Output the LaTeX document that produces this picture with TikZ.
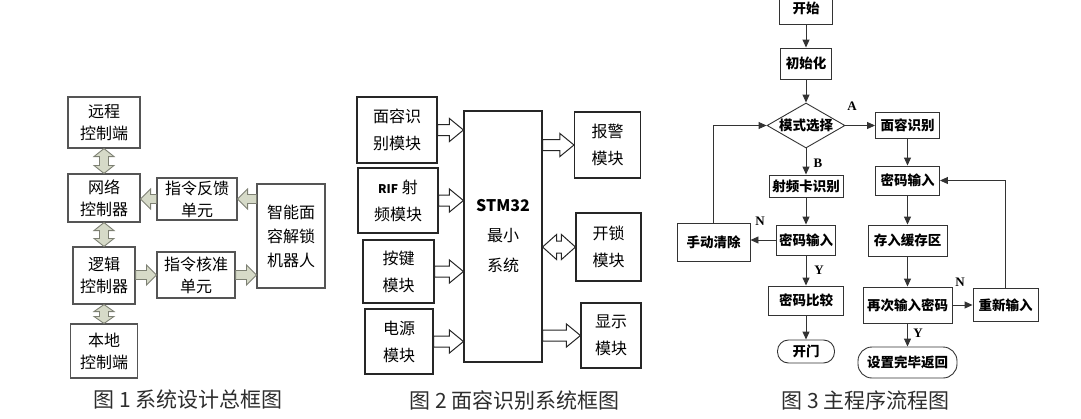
\documentclass[tikz,border=0pt]{standalone}
\usepackage{fontspec}
\setmainfont{Noto Sans CJK SC}
\newfontfamily\tagfont{Liberation Serif}
\usetikzlibrary{arrows.meta,calc,shapes.geometric}
\definecolor{framegray}{RGB}{85,85,85}
\definecolor{blockedge}{RGB}{125,128,115}
\definecolor{blockfill}{RGB}{214,218,200}
\definecolor{capgray}{RGB}{45,45,45}
\tikzset{
  adims/.code args={#1/#2/#3}{\def\ashaft{#1}\def\ahead{#2}\def\alen{#3}},
  adims=5pt/10pt/9pt,
  % fat arrow, horizontal, start -> target
  fatarrow/.style={to path={
    ($(\tikztostart)+(0,\ashaft)$) -- ($(\tikztotarget)!\alen!(\tikztostart)+(0,\ashaft)$)
    -- ($(\tikztotarget)!\alen!(\tikztostart)+(0,\ahead)$) -- (\tikztotarget)
    -- ($(\tikztotarget)!\alen!(\tikztostart)-(0,\ahead)$)
    -- ($(\tikztotarget)!\alen!(\tikztostart)-(0,\ashaft)$)
    -- ($(\tikztostart)-(0,\ashaft)$) -- cycle}},
  % fat arrow with two heads, horizontal
  fatboth/.style={to path={
    (\tikztostart) -- ($(\tikztostart)!\alen!(\tikztotarget)+(0,\ahead)$)
    -- ($(\tikztostart)!\alen!(\tikztotarget)+(0,\ashaft)$)
    -- ($(\tikztotarget)!\alen!(\tikztostart)+(0,\ashaft)$)
    -- ($(\tikztotarget)!\alen!(\tikztostart)+(0,\ahead)$) -- (\tikztotarget)
    -- ($(\tikztotarget)!\alen!(\tikztostart)-(0,\ahead)$)
    -- ($(\tikztotarget)!\alen!(\tikztostart)-(0,\ashaft)$)
    -- ($(\tikztostart)!\alen!(\tikztotarget)-(0,\ashaft)$)
    -- ($(\tikztostart)!\alen!(\tikztotarget)-(0,\ahead)$) -- cycle}},
  % same, vertical
  fatbothv/.style={to path={
    (\tikztostart) -- ($(\tikztostart)!\alen!(\tikztotarget)+(\ahead,0)$)
    -- ($(\tikztostart)!\alen!(\tikztotarget)+(\ashaft,0)$)
    -- ($(\tikztotarget)!\alen!(\tikztostart)+(\ashaft,0)$)
    -- ($(\tikztotarget)!\alen!(\tikztostart)+(\ahead,0)$) -- (\tikztotarget)
    -- ($(\tikztotarget)!\alen!(\tikztostart)-(\ahead,0)$)
    -- ($(\tikztotarget)!\alen!(\tikztostart)-(\ashaft,0)$)
    -- ($(\tikztostart)!\alen!(\tikztotarget)-(\ashaft,0)$)
    -- ($(\tikztostart)!\alen!(\tikztotarget)-(\ahead,0)$) -- cycle}},
}

\begin{document}
\begin{tikzpicture}[x=1pt, y=-1pt,
    box1/.style={draw=framegray, line width=1.1pt, align=center, inner sep=0pt,
      font=\fontsize{16}{22}\selectfont},
    box2/.style={draw=black!85, line width=1.1pt, align=center, inner sep=0pt,
      font=\fontsize{16}{27}\selectfont},
    box3/.style={draw=black!80, line width=0.9pt, inner sep=0pt,
      font=\bfseries\fontsize{13.5}{16}\selectfont},
    term3/.style={box3, rounded corners=11pt},
    greyarrow/.style={draw=blockedge, fill=blockfill, line width=0.9pt},
    openarrow/.style={draw=black!85, fill=white, line width=1pt},
    flow/.style={draw=black!80, line width=0.9pt, -{Triangle[length=8pt,width=7pt]}},
    tag/.style={font=\tagfont\bfseries\fontsize{13}{13}\selectfont},
    captext/.style={text=capgray, font=\fontsize{21}{21}\selectfont}]
  \useasboundingbox (0,0) rectangle (1081,418);

  % figure 1
  \node[box1, minimum width=72pt, minimum height=51pt] (remote) at (104,122.5) {远程\\控制端};
  \node[box1, minimum width=72pt, minimum height=48pt] (net) at (104,198) {网络\\控制器};
  \node[box1, minimum width=62pt, minimum height=57pt] (logic) at (104,275.5) {逻辑\\控制器};
  \node[box1, minimum width=67pt, minimum height=54pt] (local) at (104,351) {本地\\控制端};
  \node[box1, minimum width=80pt, minimum height=42pt] (feedback) at (197,199) {指令反馈\\单元};
  \node[box1, minimum width=78pt, minimum height=46pt] (verify) at (196,275) {指令核准\\单元};
  \node[box1, minimum width=68pt, minimum height=104pt, font=\fontsize{16}{24}\selectfont] (robot) at (291,236) {智能面\\容解锁\\机器人};

  \draw[greyarrow, adims=4.5pt/10pt/10pt] (feedback.east -| robot.west) to[fatarrow] (feedback.east);
  \draw[greyarrow, adims=4.5pt/10pt/10pt] (feedback.west) to[fatarrow] (feedback.west -| net.east);
  \draw[greyarrow, adims=4.5pt/10pt/10pt] (verify.west -| logic.east) to[fatarrow] (verify.west);
  \draw[greyarrow, adims=4.5pt/10pt/10pt] (verify.east) to[fatarrow] (verify.east -| robot.west);
  \draw[greyarrow, adims=4.5pt/10pt/8pt] (remote.south) to[fatbothv] (net.north);
  \draw[greyarrow, adims=4.5pt/10pt/8pt] (net.south) to[fatbothv] (logic.north);
  \draw[greyarrow, adims=4.5pt/10pt/7pt] (logic.south) to[fatbothv] (local.north);

  % figure 2
  \node[box2, minimum width=80pt, minimum height=66pt] (face) at (397,130) {面容识\\别模块};
  \node[box2, minimum width=80pt, minimum height=65pt] (rfid) at (398,200.5) {{\bfseries\fontsize{12}{12}\selectfont RIF} 射\\频模块};
  \node[box2, minimum width=71pt, minimum height=63pt] (keys) at (398.5,271.5) {按键\\模块};
  \node[box2, minimum width=68pt, minimum height=65pt] (power) at (399,341.5) {电源\\模块};
  \node[box2, minimum width=78pt, minimum height=251pt, font=\fontsize{16}{30}\selectfont] (mcu) at (503,236.5) {{\bfseries STM32}\\最小\\系统};
  \node[box2, minimum width=66pt, minimum height=66pt] (alarm) at (607.5,145) {报警\\模块};
  \node[box2, minimum width=65pt, minimum height=68pt] (unlock) at (608.5,247) {开锁\\模块};
  \node[box2, minimum width=60pt, minimum height=65pt] (screen) at (611,335.5) {显示\\模块};

  \draw[openarrow, adims=5.5pt/11.5pt/14pt] (face.east) to[fatarrow] (face.east -| mcu.west);
  \draw[openarrow, adims=5.5pt/11.5pt/14pt] (rfid.east) to[fatarrow] (rfid.east -| mcu.west);
  \draw[openarrow, adims=5.5pt/11.5pt/14pt] (keys.east) to[fatarrow] (keys.east -| mcu.west);
  \draw[openarrow, adims=5.5pt/11.5pt/14pt] (power.east) to[fatarrow] (power.east -| mcu.west);
  \draw[openarrow, adims=5.5pt/11.5pt/14pt] (alarm.west -| mcu.east) to[fatarrow] (alarm.west);
  \draw[openarrow, adims=6pt/12.5pt/14pt] (unlock.west -| mcu.east) to[fatboth] (unlock.west);
  \draw[openarrow, adims=5.5pt/11.5pt/14pt] (screen.west -| mcu.east) to[fatarrow] (screen.west);

  % figure 3
  \node[box3, minimum width=53pt, minimum height=32pt] (begin) at (806,8) {开始};
  \node[box3, minimum width=51pt, minimum height=31pt] (init) at (806,63.5) {初始化};
  \node[diamond, draw=black!80, line width=0.9pt, inner sep=0pt, minimum width=78pt, minimum height=45pt,
    font=\bfseries\fontsize{13.5}{16}\selectfont] (mode) at (806,125.5) {\makebox[0pt]{模式选择}};
  \node[box3, minimum width=74pt, minimum height=22pt] (card) at (806,186) {射频卡识别};
  \node[box3, minimum width=59pt, minimum height=30pt] (pwleft) at (806,240) {密码输入};
  \node[box3, minimum width=73pt, minimum height=38pt] (clear) at (713.5,242) {手动清除};
  \node[box3, minimum width=75pt, minimum height=29pt] (compare) at (806,300.5) {密码比较};
  \node[term3, minimum width=57pt, minimum height=23pt] (open) at (806,351.5) {开门};
  \node[box3, minimum width=64pt, minimum height=26pt] (facerec) at (907.5,125.5) {面容识别};
  \node[box3, minimum width=64pt, minimum height=29pt] (pwright) at (907.5,180.5) {密码输入};
  \node[box3, minimum width=79pt, minimum height=31pt] (buffer) at (907.5,240.5) {存入缓存区};
  \node[box3, minimum width=89pt, minimum height=36pt] (again) at (907.5,305) {再次输入密码};
  \node[box3, minimum width=65pt, minimum height=33pt] (retry) at (1005.5,305) {重新输入};
  \node[term3, minimum width=99pt, minimum height=31pt, rounded corners=14pt] (done) at (907.5,362.5) {设置完毕返回};

  \draw[flow] (begin) -- (init);
  \draw[flow] (init) -- (mode);
  \draw[flow] (mode.east) -- (facerec.west);
  \draw[flow] (mode) -- (card);
  \draw[flow] (card) -- (pwleft);
  \draw[flow] (pwleft.west) -- (pwleft.west -| clear.east);
  \draw[flow] (pwleft) -- (compare);
  \draw[flow] (compare) -- (open);
  \draw[flow] (clear.north) |- (mode.west);
  \draw[flow] (facerec) -- (pwright);
  \draw[flow] (pwright) -- (buffer);
  \draw[flow] (buffer) -- (again);
  \draw[flow] (again) -- (retry);
  \draw[flow] (retry.north) |- (pwright.east);
  \draw[flow] (again) -- (done);

  \node[tag] (tagA) at (852,106) {A};
  \node[tag] (tagB) at (818,163) {B};
  \node[tag] (tagN1) at (760,221) {N};
  \node[tag] (tagY1) at (819,270) {Y};
  \node[tag] (tagN2) at (960,282) {N};
  \node[tag] (tagY2) at (918,333) {Y};

  % captions
  \node[captext] (cap1) at (188,400) {图 1 系统设计总框图};
  \node[captext] (cap2) at (514.5,400) {图 2 面容识别系统框图};
  \node[captext] (cap3) at (865.5,400) {图 3 主程序流程图};
\end{tikzpicture}
\end{document}
